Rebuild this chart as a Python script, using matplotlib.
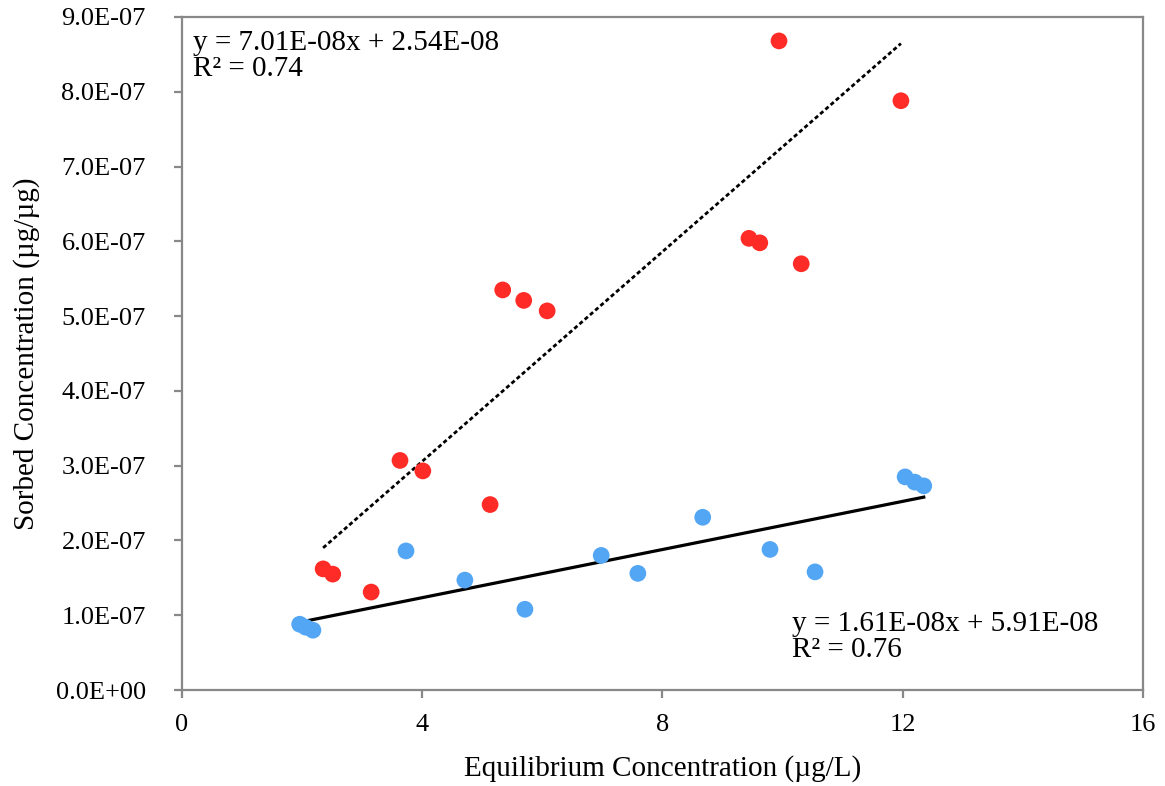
import numpy as np
import matplotlib
matplotlib.use("Agg")
import matplotlib.pyplot as plt
from matplotlib.ticker import FuncFormatter

# Data
red_x = [2.35, 2.51, 3.15, 3.63, 4.01, 5.13, 5.34, 5.69, 6.08, 9.44, 9.62, 10.31, 9.94, 11.97]
red_y = [1.62e-7, 1.55e-7, 1.31e-7, 3.07e-7, 2.93e-7, 2.48e-7, 5.35e-7, 5.21e-7, 5.07e-7,
         6.04e-7, 5.98e-7, 5.70e-7, 8.68e-7, 7.88e-7]

blue_x = [1.96, 2.06, 2.18, 3.73, 4.71, 5.71, 6.98, 7.59, 8.67, 9.79, 10.54, 12.04, 12.20, 12.35]
blue_y = [0.88e-7, 0.84e-7, 0.80e-7, 1.86e-7, 1.47e-7, 1.08e-7, 1.80e-7, 1.56e-7, 2.31e-7,
          1.88e-7, 1.58e-7, 2.85e-7, 2.78e-7, 2.73e-7]

# trend line coefficients shown on the chart
red_slope, red_icpt, red_r2 = 7.01e-8, 2.54e-8, 0.74
blue_slope, blue_icpt, blue_r2 = 1.61e-8, 5.91e-8, 0.76

x_ticks = [0, 4, 8, 12, 16]
y_ticks = np.arange(0, 10) * 1e-7

plt.rcParams['font.family'] = ['Liberation Serif', 'DejaVu Serif']

fig = plt.figure(figsize=(11.65, 7.86), dpi=100)
ax = fig.add_axes([0.1562, 0.1221, 0.8249, 0.8563])

# trend lines over the range of each series
rx = np.array([min(red_x), max(red_x)])
ax.plot(rx, red_slope * rx + red_icpt, color='black', lw=2, linestyle=(0, (1.5, 1)), zorder=2)
bx = np.array([min(blue_x), max(blue_x)])
ax.plot(bx, blue_slope * bx + blue_icpt, color='black', lw=2.3, zorder=2)

ax.scatter(red_x, red_y, s=145, color='#FF2B26', edgecolors='none', zorder=3)
ax.scatter(blue_x, blue_y, s=145, color='#52A6F4', edgecolors='none', zorder=3)

ax.set_xlim(0, 16)
ax.set_ylim(0, 9e-7)
ax.set_xticks(x_ticks)
ax.set_yticks(y_ticks)
ax.yaxis.set_major_formatter(FuncFormatter(lambda v, p: '%.1E' % v))
ax.xaxis.set_major_formatter(FuncFormatter(lambda v, p: '%d' % v))

for s in ax.spines.values():
    s.set_color('#888888')
    s.set_linewidth(1.6)
ax.tick_params(direction='out', length=6, width=1.6, color='#888888')
ax.tick_params(axis='y', labelsize=19, pad=20)
ax.tick_params(axis='x', labelsize=19, pad=11)

ax.set_xlabel('Equilibrium Concentration (µg/L)', fontsize=21, labelpad=14)
ax.set_ylabel('Sorbed Concentration (µg/µg)', fontsize=21, labelpad=11)

ax.text(0.011, 0.98, 'y = %.2Ex + %.2E\nR² = %.2f' % (red_slope, red_icpt, red_r2),
        transform=ax.transAxes, ha='left', va='top', fontsize=21, linespacing=1.0)
ax.text(0.635, 0.118, 'y = %.2Ex + %.2E\nR² = %.2f' % (blue_slope, blue_icpt, blue_r2),
        transform=ax.transAxes, ha='left', va='top', fontsize=21, linespacing=1.0)

fig.savefig('out.png', dpi=100)
